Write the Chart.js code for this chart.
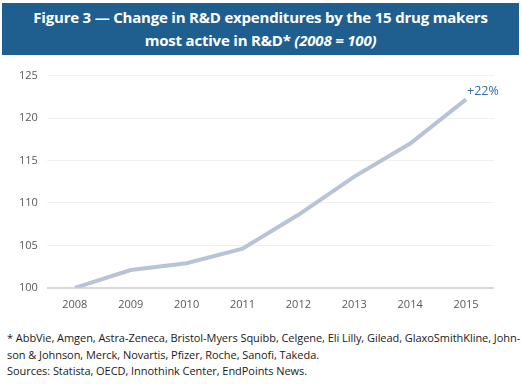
<!DOCTYPE html>
<html>
<head>
    <title>R&amp;D expenditures</title>
    <style>
        body {
            margin: 0;
            padding: 0;
            width: 522px;
            height: 387px;
            background: #ffffff;
            font-family: "Open Sans", sans-serif;
            position: relative;
            overflow: hidden;
        }
        #header {
            position: absolute;
            left: 2px;
            top: 3px;
            width: 517px;
            height: 52px;
            background-color: #1f5f8f;
            color: #ffffff;
            font-weight: bold;
            font-size: 15px;
            line-height: 23px;
            text-align: center;
            padding-top: 3px;
            box-sizing: border-box;
            letter-spacing: -0.2px;
        }
        #chart-box {
            position: absolute;
            left: 0;
            top: 60px;
            width: 522px;
            height: 253px;
        }
        #notes {
            position: absolute;
            left: 7px;
            top: 330px;
            font-size: 11px;
            line-height: 16.5px;
            color: #1a1a1a;
            letter-spacing: -0.05px;
            white-space: nowrap;
        }
    </style>
</head>
<body>
<div id="header">
    Figure 3 — Change in R&amp;D expenditures by the 15 drug makers<br>
    most active in R&amp;D* <i>(2008 = 100)</i>
</div>
<div id="chart-box">
    <canvas id="chart"></canvas>
</div>
<div id="notes">
    * AbbVie, Amgen, Astra-Zeneca, Bristol-Myers Squibb, Celgene, Eli Lilly, Gilead, GlaxoSmithKline, John-<br>
    son &amp; Johnson, Merck, Novartis, Pfizer, Roche, Sanofi, Takeda.<br>
    Sources: Statista, OECD, Innothink Center, EndPoints News.
</div>
<script src="https://cdn.jsdelivr.net/npm/chart.js"></script>
<script>
    // years and index values (2008 = 100)
    const years = ['2008', '2009', '2010', '2011', '2012', '2013', '2014', '2015'];
    const rdIndex = [100, 102.1, 102.9, 104.6, 108.6, 113.1, 117.0, 122.2];
    const endLabel = '+22%';
    const yTicks = [100, 105, 110, 115, 120, 125];

    // writes the growth label next to the last point
    const endLabelPlugin = {
      id: 'endLabel',
      afterDatasetsDraw(chart) {
        const pt = chart.getDatasetMeta(0).data[years.length - 1];
        const c = chart.ctx;
        c.save();
        c.font = '12.5px "Open Sans"';
        c.fillStyle = '#2e6da4';
        c.textAlign = 'left';
        c.textBaseline = 'bottom';
        c.fillText(endLabel, pt.x + 1, pt.y - 2);
        c.restore();
      }
    };

    const ctx = document.getElementById('chart').getContext('2d');
    new Chart(ctx, {
      type: 'line',
      data: {
        labels: years,
        datasets: [{
          data: rdIndex,
          borderColor: '#b7c3d6',
          borderWidth: 4,
          pointRadius: 0,
          tension: 0,
          fill: false,
        }],
      },
      options: {
        responsive: true,
        maintainAspectRatio: false,
        animation: false,
        layout: {
          padding: { top: 14, right: 28, left: 10, bottom: 0 },
        },
        scales: {
          y: {
            min: 100,
            max: 125,
            afterBuildTicks(axis) {
              axis.ticks = yTicks.map(v => ({ value: v }));
            },
            border: { display: false },
            grid: {
              drawTicks: false,
              color: c => c.tick && c.tick.value === 100 ? '#d9d9d9' : '#f0f0f0',
              lineWidth: c => c.tick && c.tick.value === 100 ? 2 : 1,
            },
            ticks: {
              padding: 9,
              color: '#595959',
              font: { family: 'Open Sans', size: 11 },
            },
          },
          x: {
            offset: true,
            border: { display: false },
            grid: { display: false },
            ticks: {
              padding: 2,
              color: '#595959',
              maxRotation: 0,
              font: { family: 'Open Sans', size: 11 },
            },
          },
        },
        plugins: {
          legend: { display: false },
          tooltip: { enabled: false },
        },
      },
      plugins: [endLabelPlugin],
    });
</script>
</body>
</html>
